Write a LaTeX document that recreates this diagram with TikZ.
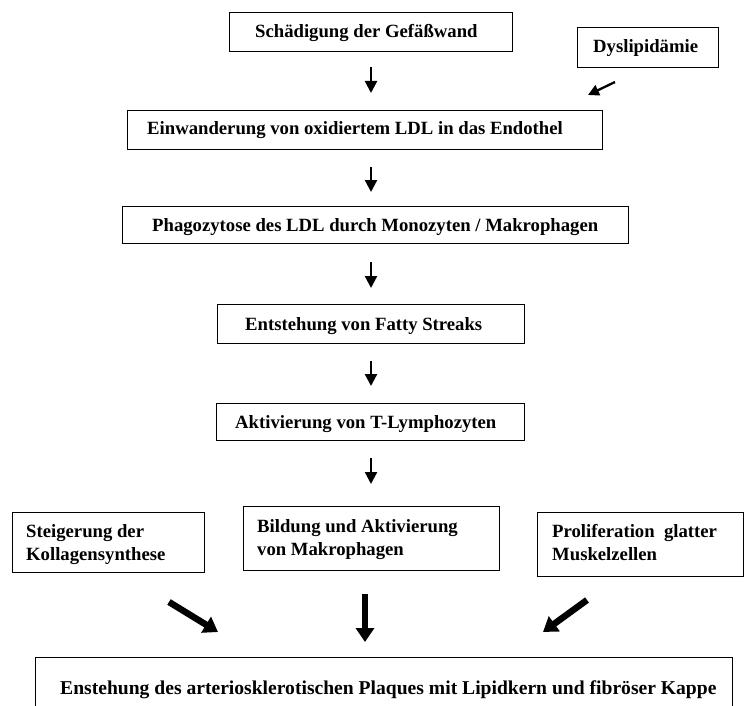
\documentclass[tikz,border=0pt]{standalone}
\usepackage{fontspec}
\setmainfont{Liberation Serif}
\usetikzlibrary{arrows.meta}
\begin{document}
\begin{tikzpicture}[x=1pt,y=-1pt,
  box/.style={draw, line width=1.4pt, inner sep=0pt, anchor=north west},
  txt/.style={anchor=base west, inner sep=0pt, align=left, font=\fontsize{18.7}{23}\selectfont\bfseries},
  thinarr/.style={line width=2.3pt, -{Triangle[length=12pt,width=12pt]}},
  thickarr/.style={line width=6.5pt, -{Triangle[length=14pt,width=18pt]}}]
\useasboundingbox (0,0) rectangle (747,706);
\fill[white] (0,0) rectangle (747,706);
\coordinate (ax) at (371,0);
% boxes
\node[box, minimum width=283pt, minimum height=39pt] (b1) at (229,12) {};
\node[box, minimum width=141pt, minimum height=40pt] (dy) at (577,27) {};
\node[box, minimum width=475pt, minimum height=39pt] (b2) at (127,110) {};
\node[box, minimum width=506pt, minimum height=37pt] (b3) at (122,206) {};
\node[box, minimum width=307pt, minimum height=39pt] (b4) at (217,304) {};
\node[box, minimum width=308pt, minimum height=37pt] (b5) at (216,403) {};
\node[box, minimum width=192pt, minimum height=60pt] (bl) at (12,512) {};
\node[box, minimum width=256pt, minimum height=64pt] (bm) at (243,506) {};
\node[box, minimum width=206pt, minimum height=64pt] (br) at (537,512) {};
\node[box, minimum width=697pt, minimum height=75pt] (bb) at (35,657) {};
% texts
\node[txt] (t1) at (255,38) {Schädigung der Gefäßwand};
\node[txt] (td) at (593,53) {Dyslipidämie};
\node[txt] (t2) at (147,135) {Einwanderung von oxidiertem LDL in das Endothel};
\node[txt] (t3) at (152,231) {Phagozytose des LDL durch Monozyten / Makrophagen};
\node[txt] (t4) at (245,330) {Entstehung von Fatty Streaks};
\node[txt] (t5) at (235,428) {Aktivierung von T-Lymphozyten};
\node[txt] (tl) at (26,560) {Steigerung der\\Kollagensynthese};
\node[txt] (tm) at (257,555) {Bildung und Aktivierung\\von Makrophagen};
\node[txt] (tr) at (552,560) {Proliferation\ \ glatter\\Muskelzellen};
\node[txt, font=\fontsize{19.6}{23}\selectfont\bfseries] (tb) at (60,694) {Enstehung des arteriosklerotischen Plaques mit Lipidkern und fibröser Kappe};
% thin arrows
\draw[thinarr, shorten <=15pt, shorten >=17pt] (b1.south -| ax) -- (b2.north -| ax);
\draw[thinarr, shorten <=17pt, shorten >=14pt] (b2.south -| ax) -- (b3.north -| ax);
\draw[thinarr, shorten <=18pt, shorten >=16pt] (b3.south -| ax) -- (b4.north -| ax);
\draw[thinarr, shorten <=17pt, shorten >=17pt] (b4.south -| ax) -- (b5.north -| ax);
\draw[thinarr, shorten <=17pt, shorten >=22pt] (b5.south -| ax) -- (bm.north -| ax);
\coordinate (d1) at (615,82);
\coordinate (d2) at (588,95);
\draw[line width=2.3pt, -{Triangle[length=11pt,width=11pt]}] (d1) -- (d2);
% thick arrows
\coordinate (l1) at (169,602);
\coordinate (l2) at (218,632);
\coordinate (m1) at (365,594);
\coordinate (m2) at (365,642);
\coordinate (r1) at (587,600);
\coordinate (r2) at (543,632);
\draw[thickarr] (l1) -- (l2);
\draw[thickarr] (m1) -- (m2);
\draw[thickarr] (r1) -- (r2);
\end{tikzpicture}
\end{document}
